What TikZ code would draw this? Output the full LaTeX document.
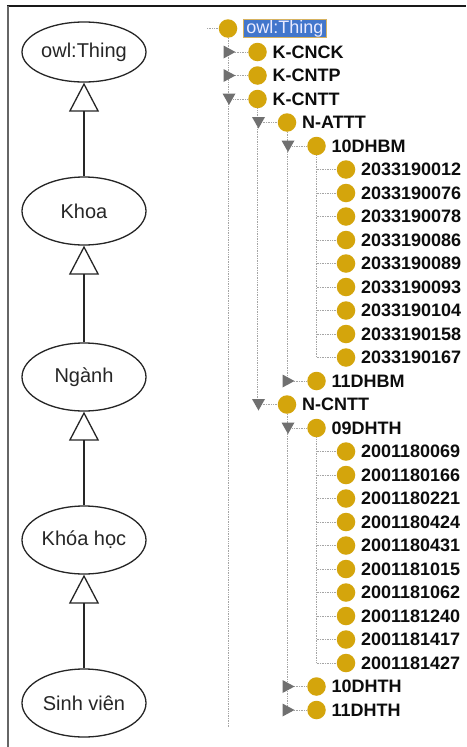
\documentclass[tikz,border=0pt]{standalone}
\usepackage{fontspec}
\setmainfont{Liberation Sans}
\usetikzlibrary{shapes.geometric,arrows.meta}
\definecolor{ballgold}{RGB}{212,165,12}
\definecolor{selblue}{RGB}{66,118,204}
\definecolor{seledge}{RGB}{214,178,96}
\definecolor{toggray}{RGB}{112,112,112}
\definecolor{guide}{RGB}{165,165,165}

\begin{document}
\begin{tikzpicture}[x=1pt,y=-1pt,
  cls/.style={ellipse,draw=black!85,line width=1.3pt,minimum width=124pt,
    minimum height=68pt,inner sep=0pt,font=\fontsize{20}{22}\selectfont,text=black!85},
  isa/.style={-{Triangle[open,length=29pt,width=30pt]},line width=1.3pt,draw=black!85},
  ball/.style={circle,fill=ballgold,minimum size=18.5pt,inner sep=0pt},
  lbl/.style={anchor=west,inner sep=0pt,font=\fontsize{18}{20}\selectfont\bfseries,text=black!95},
  guideline/.style={draw=guide,densely dotted,line width=0.7pt},
  togfill/.style={fill=toggray},
]
% canvas and frame
\useasboundingbox (0,0) rectangle (466,747);
\fill[white] (0,0) rectangle (466,747);
\draw[black!90,line width=1.6pt] (7,6) -- (466,6);
\draw[black!60,line width=2pt] (8,6) -- (8,747);

% ---------- class hierarchy ----------
\node[cls,minimum height=60pt] (thing) at (84,52) {owl:Thing};
\node[cls] (khoa)  at (84,211) {Khoa};
\node[cls] (nganh) at (84,377) {Ngành};
\node[cls] (khoahoc) at (84,540) {Khóa học};
\node[cls] (sv)    at (84,703) {Sinh viên};
\draw[isa] (khoa) -- (thing);
\draw[isa] (nganh) -- (khoa);
\draw[isa] (khoahoc) -- (nganh);
\draw[isa] (sv) -- (khoahoc);

% ---------- individuals tree ----------
% root
\node[ball] (b0) at (228,28.5) {};
\node[anchor=west,fill=selblue,draw=seledge,line width=0.8pt,text=white!92!blue,
      inner xsep=3pt,inner ysep=0.6pt,font=\fontsize{18}{18}\selectfont] (t0) at (243,28.5) {owl:Thing};
\coordinate (rootlead) at (207,28.5);
\draw[guideline] (rootlead) -- (b0.west);

% nodes: row/level/label
\foreach \r/\k/\txt in {1/1/K-CNCK,2/1/K-CNTP,3/1/K-CNTT,4/2/N-ATTT,5/3/10DHBM,
  6/4/2033190012,7/4/2033190076,8/4/2033190078,9/4/2033190086,10/4/2033190089,
  11/4/2033190093,12/4/2033190104,13/4/2033190158,14/4/2033190167,
  15/3/11DHBM,16/2/N-CNTT,17/3/09DHTH,
  18/4/2001180069,19/4/2001180166,20/4/2001180221,21/4/2001180424,22/4/2001180431,
  23/4/2001181015,24/4/2001181062,25/4/2001181240,26/4/2001181417,27/4/2001181427,
  28/3/10DHTH,29/3/11DHTH}{
  \node[ball] (b\r) at ({228+29.5*\k},{28.5+23.5*\r}) {};
  \node[lbl] (t\r) at ([xshift=5.5pt]b\r.east) {\txt};
  \coordinate (g\r) at ({228+29.5*(\k-1)+1},{28.5+23.5*\r});
}

% vertical guides from each parent to its last child
\coordinate (tail) at (228,727);
\draw[guideline] (b0.south) -- (tail);
\draw[guideline] (b3.south) -- (b3.south |- b16);
\draw[guideline] (b4.south) -- (b4.south |- b15);
\draw[guideline] (b5.south) -- (b5.south |- b14);
\draw[guideline] (b16.south) -- (b16.south |- b29);
\draw[guideline] (b17.south) -- (b17.south |- b27);

% horizontal guides into each node
\foreach \r in {1,...,29}{
  \draw[guideline] ([xshift=-1pt]g\r) -- (b\r.west);
}

% collapsed toggles (pointing right)
\foreach \r in {1,2,15,28,29}{
  \fill[togfill] ([shift={(-5.5,-6.5)}]g\r) -- ([shift={(-5.5,6.5)}]g\r)
     -- ([shift={(6.5,0)}]g\r) -- cycle;
}
% expanded toggles (pointing down)
\foreach \r in {3,4,5,16,17}{
  \fill[togfill] ([shift={(-6.5,-5.5)}]g\r) -- ([shift={(6.5,-5.5)}]g\r)
     -- ([shift={(0,6)}]g\r) -- cycle;
}
\end{tikzpicture}
\end{document}
